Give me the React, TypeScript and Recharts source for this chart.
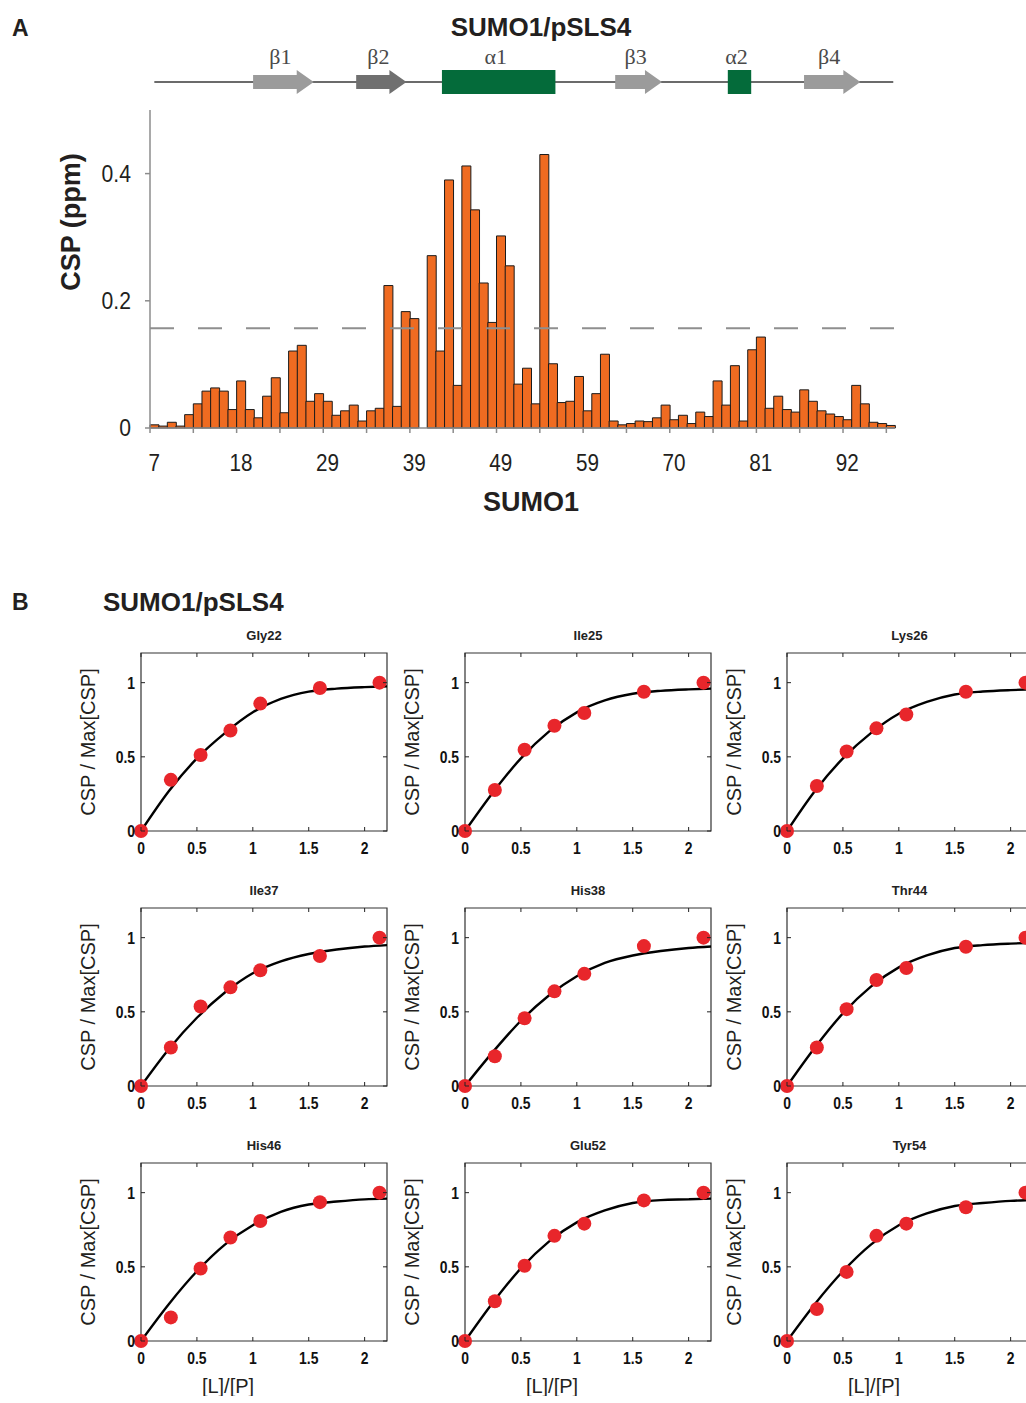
import { BarChart, Bar, XAxis, YAxis, ReferenceLine, ComposedChart, Line, Scatter, ReferenceArea, Label } from 'recharts'

// ---- panel A: chemical shift perturbation per residue ----
const firstResidue = 7
const lastResidue = 97
// residues with no assigned peak are left out of the profile
const unassigned = [8, 20, 63, 75, 86]

const cspValues = [
  0.005, 0.003, 0.009, 0.003, 0.021, 0.038, 0.058, 0.063, 0.058, 0.029,
  0.074, 0.029, 0.016, 0.05, 0.079, 0.024, 0.121, 0.13, 0.042, 0.054,
  0.042, 0.02, 0.027, 0.036, 0.011, 0.027, 0.031, 0.224, 0.034, 0.183,
  0.172, null, 0.271, 0.121, 0.39, 0.067, 0.412, 0.343, 0.228, 0.166,
  0.302, 0.255, 0.069, 0.094, 0.038, 0.43, 0.101, 0.04, 0.042, 0.081,
  0.027, 0.054, 0.116, 0.011, 0.005, 0.007, 0.011, 0.01, 0.016, 0.036,
  0.013, 0.02, 0.007, 0.025, 0.018, 0.074, 0.036, 0.098, 0.011, 0.123,
  0.143, 0.031, 0.05, 0.029, 0.025, 0.06, 0.042, 0.027, 0.022, 0.018,
  0.013, 0.067, 0.038, 0.009, 0.007, 0.004,
]
const cspTicks = [0, 0.2, 0.4]
const cspCutoff = 0.157

// secondary structure, in bar positions along the profile
const structure = [
  { name: 'β1', kind: 'strand', from: 11.9, to: 18.9, color: '#9b9b9b' },
  { name: 'β2', kind: 'strand', from: 23.8, to: 29.6, color: '#707070' },
  { name: 'α1', kind: 'helix', from: 33.7, to: 46.8, color: '#046b3a' },
  { name: 'β3', kind: 'strand', from: 53.7, to: 59.1, color: '#9b9b9b' },
  { name: 'α2', kind: 'helix', from: 66.7, to: 69.4, color: '#046b3a' },
  { name: 'β4', kind: 'strand', from: 75.5, to: 82.0, color: '#9b9b9b' },
]

// ---- panel B: titration curves ----
const ligandRatio = [0, 0.267, 0.533, 0.8, 1.067, 1.6, 2.133]
const fitRatio = [0, 0.25, 0.5, 0.75, 1, 1.25, 1.5, 1.75, 2, 2.2]
const titrationNames = ['Gly22', 'Ile25', 'Lys26', 'Ile37', 'His38', 'Thr44', 'His46', 'Glu52', 'Tyr54']
const gly22 = [0, 0.345, 0.512, 0.678, 0.859, 0.964, 1]
const ile25 = [0, 0.276, 0.548, 0.71, 0.796, 0.939, 1]
const lys26 = [0, 0.303, 0.536, 0.692, 0.785, 0.939, 1]
const ile37 = [0, 0.26, 0.536, 0.665, 0.78, 0.876, 1]
const his38 = [0, 0.201, 0.457, 0.638, 0.756, 0.943, 1]
const thr44 = [0, 0.26, 0.518, 0.715, 0.796, 0.939, 1]
const his46 = [0, 0.159, 0.489, 0.698, 0.809, 0.936, 1]
const glu52 = [0, 0.268, 0.507, 0.709, 0.791, 0.948, 1]
const tyr54 = [0, 0.216, 0.466, 0.709, 0.791, 0.902, 1]
const gly22Fit = [0, 0.27, 0.49, 0.66, 0.8, 0.89, 0.94, 0.96, 0.97, 0.975]
const ile25Fit = [0, 0.26, 0.49, 0.67, 0.8, 0.88, 0.925, 0.945, 0.955, 0.96]
const lys26Fit = [0, 0.27, 0.49, 0.66, 0.79, 0.87, 0.92, 0.94, 0.95, 0.955]
const ile37Fit = [0, 0.25, 0.46, 0.63, 0.76, 0.84, 0.89, 0.92, 0.94, 0.95]
const his38Fit = [0, 0.23, 0.44, 0.61, 0.74, 0.83, 0.88, 0.91, 0.93, 0.94]
const thr44Fit = [0, 0.26, 0.49, 0.67, 0.8, 0.88, 0.93, 0.95, 0.96, 0.965]
const his46Fit = [0, 0.25, 0.47, 0.65, 0.78, 0.87, 0.92, 0.94, 0.955, 0.96]
const glu52Fit = [0, 0.26, 0.49, 0.67, 0.8, 0.88, 0.93, 0.95, 0.955, 0.96]
const tyr54Fit = [0, 0.25, 0.47, 0.65, 0.78, 0.86, 0.91, 0.93, 0.945, 0.95]
const titrationPoints = [gly22, ile25, lys26, ile37, his38, thr44, his46, glu52, tyr54]
const titrationFits = [gly22Fit, ile25Fit, lys26Fit, ile37Fit, his38Fit, thr44Fit, his46Fit, glu52Fit, tyr54Fit]

const residues: number[] = []
for (let r = firstResidue; r <= lastResidue; r++) if (!unassigned.includes(r)) residues.push(r)
const cspData = residues.map((r, i) => ({ residue: String(r), csp: cspValues[i] }))

// layout
const PLOT_LEFT = 150
const PLOT_RIGHT = 895
const BAND = (PLOT_RIGHT - PLOT_LEFT) / residues.length
const AXIS_GREY = '#8c8c8c'
const TEXT = '#231f20'
const sans = "'Liberation Sans', Arial, sans-serif"

const bx = (u: number) => PLOT_LEFT + u * BAND

function StructureBar() {
  const y = 82
  return (
    <svg width={1026} height={100} style={{ position: 'absolute', left: 0, top: 0 }}>
      <line x1={bx(0.5)} x2={bx(85.8)} y1={y} y2={y} stroke="#6b6b6b" strokeWidth={2} />
      {structure.map((s) => {
        const x0 = bx(s.from)
        const x1 = bx(s.to)
        const shape =
          s.kind === 'helix' ? (
            <rect x={x0} y={y - 12} width={x1 - x0} height={24} fill={s.color} />
          ) : (
            <polygon
              points={`${x0},${y - 7} ${x1 - 17},${y - 7} ${x1 - 17},${y - 12} ${x1},${y} ${x1 - 17},${y + 12} ${x1 - 17},${y + 7} ${x0},${y + 7}`}
              fill={s.color}
            />
          )
        return (
          <g key={s.name}>
            {shape}
            <text
              x={(x0 + x1) / 2 - 3}
              y={64}
              textAnchor="middle"
              fontFamily="'Liberation Serif', 'Times New Roman', serif"
              fontSize={22}
              fill="#4a4a4a"
            >
              {s.name}
            </text>
          </g>
        )
      })}
    </svg>
  )
}

function ResidueTick(props: any) {
  const { x, y, index, payload } = props
  if (index % 5 !== 0) return <g />
  const edge = x - BAND / 2
  return (
    <g>
      <line x1={edge} x2={edge} y1={y} y2={y + 5} stroke={AXIS_GREY} strokeWidth={1.5} />
      {index % 10 === 0 && (
        <text
          transform={`translate(${x} ${y + 43}) scale(0.9 1)`}
          textAnchor="middle"
          fontFamily={sans}
          fontSize={23}
          fill={TEXT}
        >
          {payload.value}
        </text>
      )}
    </g>
  )
}

function CspTick(props: any) {
  const { x, y, payload } = props
  return (
    <g>
      <line x1={x - 5} x2={x} y1={y} y2={y} stroke={AXIS_GREY} strokeWidth={1.5} />
      <text
        transform={`translate(${x - 19} ${y + 8}) scale(0.92 1)`}
        textAnchor="end"
        fontFamily={sans}
        fontSize={23}
        fill={TEXT}
      >
        {payload.value}
      </text>
    </g>
  )
}

function CspChart() {
  return (
    <div style={{ position: 'absolute', left: 0, top: 0 }}>
      <BarChart
        width={920}
        height={520}
        data={cspData}
        margin={{ top: 110, right: 920 - PLOT_RIGHT, bottom: 2, left: 0 }}
        barCategoryGap={0}
        barGap={0}
      >
        <XAxis
          dataKey="residue"
          interval={0}
          height={90}
          tickSize={0}
          tickMargin={0}
          tickLine={false}
          stroke={AXIS_GREY}
          strokeWidth={1.5}
          tick={<ResidueTick />}
        >
          <Label
            content={() => (
              <text x={531} y={511} textAnchor="middle" fontFamily={sans} fontWeight="bold" fontSize={27} fill={TEXT}>
                SUMO1
              </text>
            )}
          />
        </XAxis>
        <YAxis
          width={PLOT_LEFT}
          domain={[0, 0.5]}
          ticks={cspTicks}
          tickSize={0}
          tickMargin={0}
          tickLine={false}
          stroke={AXIS_GREY}
          strokeWidth={1.5}
          tick={<CspTick />}
        >
          <Label
            content={() => (
              <text
                x={80}
                y={222}
                transform="rotate(-90 80 222)"
                textAnchor="middle"
                fontFamily={sans}
                fontWeight="bold"
                fontSize={27}
                fill={TEXT}
              >
                CSP (ppm)
              </text>
            )}
          />
        </YAxis>
        <Bar dataKey="csp" fill="#ef6b21" stroke="#1b1b1b" strokeWidth={1} isAnimationActive={false} />
        <ReferenceLine y={cspCutoff} stroke="#8f8f8f" strokeWidth={2} strokeDasharray="24 24" />
      </BarChart>
    </div>
  )
}

// ---- titration panels ----
const BOX_W = 246
const BOX_H = 178
const CH_LEFT = 80
const CH_TOP = 30
const colLeft = [141, 465, 786.5]
const rowTop = [653, 908, 1163]

function RatioTick(props: any) {
  const { x, y, payload } = props
  return (
    <g>
      <line x1={x} x2={x} y1={y} y2={y - 4} stroke="#222" />
      <line x1={x} x2={x} y1={y - BOX_H} y2={y - BOX_H + 4} stroke="#222" />
      <text
        transform={`translate(${x} ${y + 23}) scale(0.82 1)`}
        textAnchor="middle"
        fontFamily={sans}
        fontWeight="bold"
        fontSize={17}
        fill="#111"
      >
        {payload.value}
      </text>
    </g>
  )
}

function NormTick(props: any) {
  const { x, y, payload } = props
  return (
    <g>
      <line x1={x} x2={x + 4} y1={y} y2={y} stroke="#222" />
      <line x1={x + BOX_W} x2={x + BOX_W - 4} y1={y} y2={y} stroke="#222" />
      <text
        transform={`translate(${x - 6} ${y + 6}) scale(0.82 1)`}
        textAnchor="end"
        fontFamily={sans}
        fontWeight="bold"
        fontSize={17}
        fill="#111"
      >
        {payload.value}
      </text>
    </g>
  )
}

function Titration({ index }: { index: number }) {
  const col = index % 3
  const row = Math.floor(index / 3)
  const points = ligandRatio.map((x, i) => ({ x, y: titrationPoints[index][i] }))
  const curve = fitRatio.map((x, i) => ({ x, y: titrationFits[index][i] }))
  return (
    <div style={{ position: 'absolute', left: colLeft[col] - CH_LEFT, top: rowTop[row] - CH_TOP }}>
      <div
        style={{
          position: 'absolute',
          left: CH_LEFT,
          width: BOX_W,
          top: 5,
          textAlign: 'center',
          fontFamily: sans,
          fontWeight: 'bold',
          fontSize: 13,
          lineHeight: '16px',
          color: '#222',
        }}
      >
        {titrationNames[index]}
      </div>
      <ComposedChart width={CH_LEFT + BOX_W + 4} height={CH_TOP + BOX_H + 55} margin={{ top: CH_TOP, right: 4, bottom: 0, left: 0 }}>
        <XAxis
          type="number"
          dataKey="x"
          domain={[0, 2.2]}
          ticks={[0, 0.5, 1, 1.5, 2]}
          height={55}
          tickSize={0}
          tickMargin={0}
          tickLine={false}
          axisLine={false}
          tick={<RatioTick />}
        >
          {row === 2 && (
            <Label
              content={() => (
                <text x={CH_LEFT + 87} y={CH_TOP + BOX_H + 52} textAnchor="middle" fontFamily={sans} fontSize={20} fill={TEXT}>
                  [L]/[P]
                </text>
              )}
            />
          )}
        </XAxis>
        <YAxis
          type="number"
          dataKey="y"
          domain={[0, 1.2]}
          ticks={[0, 0.5, 1]}
          width={CH_LEFT}
          tickSize={0}
          tickMargin={0}
          tickLine={false}
          axisLine={false}
          tick={<NormTick />}
        >
          <Label
            content={() => (
              <text
                x={34}
                y={CH_TOP + BOX_H / 2}
                transform={`rotate(-90 34 ${CH_TOP + BOX_H / 2})`}
                textAnchor="middle"
                fontFamily={sans}
                fontSize={20}
                fill={TEXT}
              >
                CSP / Max[CSP]
              </text>
            )}
          />
        </YAxis>
        <ReferenceArea x1={0} x2={2.2} y1={0} y2={1.2} fill="none" stroke="#333" strokeWidth={1.2} ifOverflow="visible" />
        <Line
          data={curve}
          dataKey="y"
          type="monotone"
          dot={false}
          stroke="#000"
          strokeWidth={2.4}
          isAnimationActive={false}
        />
        <Scatter
          data={points}
          dataKey="y"
          isAnimationActive={false}
          shape={(p: any) => <circle cx={p.cx} cy={p.cy} r={7} fill="#e8262b" />}
        />
      </ComposedChart>
    </div>
  )
}

export default function App() {
  return (
    <div
      style={{
        position: 'fixed',
        left: 0,
        top: 0,
        width: 1026,
        height: 1403,
        overflow: 'hidden',
        background: '#fff',
        fontFamily: sans,
        color: TEXT,
      }}
    >
      <div style={{ position: 'absolute', left: 12, top: 15, fontSize: 23, fontWeight: 'bold' }}>A</div>
      <div style={{ position: 'absolute', left: 12, top: 589, fontSize: 23, fontWeight: 'bold' }}>B</div>
      <div
        style={{ position: 'absolute', left: 341, width: 400, top: 12, textAlign: 'center', fontSize: 26, fontWeight: 'bold' }}
      >
        SUMO1/pSLS4
      </div>
      <div style={{ position: 'absolute', left: 103, top: 587, fontSize: 26, fontWeight: 'bold' }}>SUMO1/pSLS4</div>
      <StructureBar />
      <CspChart />
      {titrationNames.map((n, i) => (
        <Titration key={n} index={i} />
      ))}
    </div>
  )
}
